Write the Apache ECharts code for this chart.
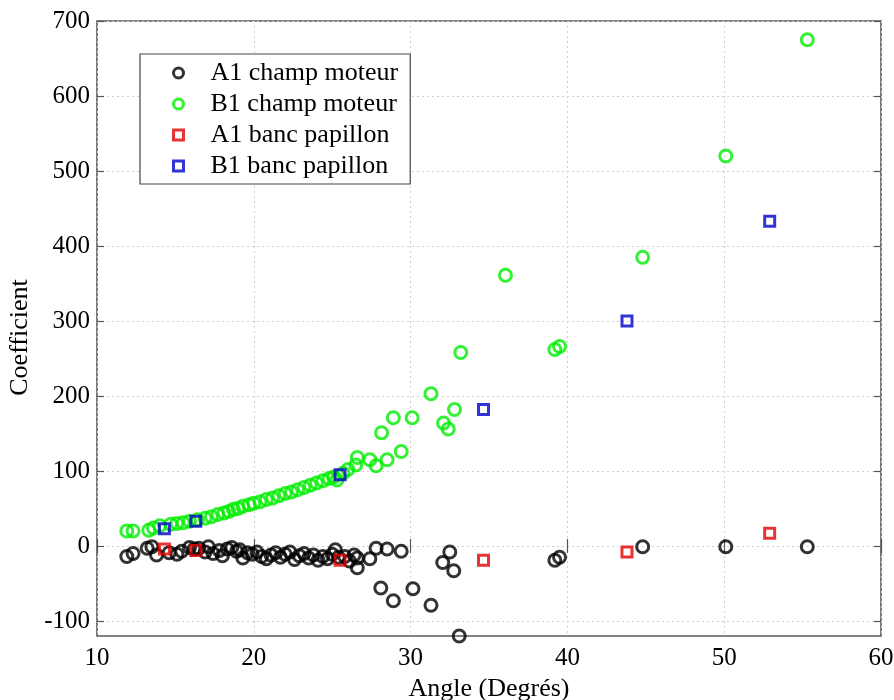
<!DOCTYPE html>
<html>
<head>
<meta charset="utf-8">
<script src="https://cdn.jsdelivr.net/npm/echarts@6/dist/echarts.min.js"></script>
<style>
html,body{margin:0;padding:0;background:#fff;}
#chart{width:894px;height:700px;}
</style>
</head>
<body>
<div id="chart"></div>
<script>
// ---- Data ----
var a1ChampX = [11.9,12.3,13.2,13.5,13.8,14.6,15.1,15.4,15.9,16.2,16.5,16.9,17.1,17.4,17.8,18.0,18.3,18.6,18.9,19.1,19.3,19.6,19.9,20.2,20.5,20.8,21.1,21.4,21.7,22.0,22.3,22.6,22.9,23.2,23.5,23.8,24.1,24.4,24.7,25.0,25.2,25.4,25.8,26.1,26.4,26.6,26.6,27.4,27.8,28.1,28.5,28.9,29.4,30.15,31.3,32.05,32.5,32.75,33.1,39.2,39.5,44.8,50.1,55.3];
var a1ChampY = [-14,-10,-3,-1,-12,-9,-11,-7,-2,-4,-3,-8,-1,-10,-6,-13,-4,-2,-7,-5,-16,-9,-11,-8,-14,-17,-12,-9,-15,-11,-8,-18,-13,-10,-16,-12,-19,-14,-17,-11,-5,-15,-14,-20,-12,-16,-29,-17,-3,-56,-4,-73,-7,-57,-79,-22,-8,-33,-120,-19,-15,-1,-1,-1];
var b1ChampX = [11.9,12.3,13.3,13.6,14.0,14.7,15.1,15.5,15.9,16.4,16.9,17.3,17.7,18.1,18.4,18.7,19.0,19.3,19.7,20.0,20.4,20.8,21.2,21.6,22.0,22.4,22.8,23.2,23.6,24.0,24.4,24.8,25.1,25.3,25.7,26.0,26.5,26.6,27.4,27.8,28.15,28.5,28.9,29.4,30.1,31.3,32.1,32.4,32.8,33.2,36.05,39.2,39.5,44.8,50.1,55.3];
var b1ChampY = [20,20,21,24,27,29,30,31,33,35,37,39,42,44,46,49,50,53,55,57,59,62,64,67,70,72,75,78,81,84,87,90,92,88,97,102,108,118,115,107,151,115,171,126,171,203,164,156,182,258,361,262,266,385,520,675];
var bancX = [14.3,16.3,25.5,34.65,43.8,52.9];
var a1BancY = [-4,-6,-19,-19,-8,17];
var b1BancY = [23,33,95,182,300,433];
var xTicks = [10,20,30,40,50,60];
var yTicks = [-100,0,100,200,300,400,500,600,700];
var seriesNames = ['A1 champ moteur','B1 champ moteur','A1 banc papillon','B1 banc papillon'];
var xLabel = 'Angle (Degrés)';
var yLabel = 'Coefficient';

function zip(xs, ys){ return xs.map(function(x,i){ return [x, ys[i]]; }); }

var FONT = 'Liberation Serif';
var chart = echarts.init(document.getElementById('chart'), null, {renderer:'canvas'});

var gridLine = {show:true, lineStyle:{color:'#d0d0d0', type:[2,3], width:1}};
var tickStyle = {show:true, inside:true, length:7, lineStyle:{color:'#555', width:1.2}};
var axisCommon = {
  axisLine:{show:false},
  axisTick:tickStyle,
  splitLine:{show:false}
};

var option = {
  animation:false,
  backgroundColor:'#fff',
  textStyle:{fontFamily:FONT},
  grid:{left:97, top:21, right:13, bottom:64, show:true, borderColor:'#5a5a5a', borderWidth:1.6, backgroundColor:'#fff', containLabel:false, outerBoundsMode:'none'},
  legend:{
    orient:'vertical', left:140, top:54,
    backgroundColor:'#fff', borderColor:'#444', borderWidth:1.2,
    padding:[6,12,5,32], itemGap:5, itemWidth:10, itemHeight:10,
    itemStyle:{borderWidth:3},
    textStyle:{fontFamily:FONT, fontSize:26, color:'#000', padding:[0,0,0,22]},
    data:seriesNames
  },
  xAxis:[
    Object.assign({}, axisCommon, {
      type:'value', min:xTicks[0], max:xTicks[xTicks.length-1], interval:10, position:'bottom',
      splitLine:gridLine,
      axisLabel:{color:'#000', fontFamily:FONT, fontSize:25, margin:10},
      name:xLabel, nameLocation:'middle', nameGap:36,
      nameTextStyle:{color:'#000', fontFamily:FONT, fontSize:26}
    }),
    Object.assign({}, axisCommon, {
      type:'value', min:xTicks[0], max:xTicks[xTicks.length-1], interval:10, position:'top',
      axisLabel:{show:false}
    })
  ],
  yAxis:[
    Object.assign({}, axisCommon, {
      type:'value', min:-120, max:700, position:'left',
      splitLine:gridLine,
      axisTick:Object.assign({}, tickStyle, {customValues:yTicks}),
      axisLabel:{color:'#000', fontFamily:FONT, fontSize:25, margin:7, customValues:yTicks},
      name:yLabel, nameLocation:'middle', nameGap:60,
      nameTextStyle:{color:'#000', fontFamily:FONT, fontSize:26, padding:[0,18,0,0]}
    }),
    Object.assign({}, axisCommon, {
      type:'value', min:-120, max:700, position:'right',
      axisTick:Object.assign({}, tickStyle, {customValues:yTicks}),
      axisLabel:{show:false, customValues:yTicks}
    })
  ],
  series:[
    {name:seriesNames[0], type:'scatter', data:zip(a1ChampX,a1ChampY), symbol:'circle', symbolSize:12,
     itemStyle:{color:'rgba(0,0,0,0)', borderColor:'#000', borderWidth:3}, z:2},
    {name:seriesNames[1], type:'scatter', data:zip(b1ChampX,b1ChampY), symbol:'circle', symbolSize:12,
     itemStyle:{color:'rgba(0,0,0,0)', borderColor:'#00ee00', borderWidth:3}, z:3},
    {name:seriesNames[2], type:'scatter', data:zip(bancX,a1BancY), symbol:'rect', symbolSize:10,
     itemStyle:{color:'rgba(0,0,0,0)', borderColor:'#e00000', borderWidth:3}, z:4},
    {name:seriesNames[3], type:'scatter', data:zip(bancX,b1BancY), symbol:'rect', symbolSize:10,
     itemStyle:{color:'rgba(0,0,0,0)', borderColor:'#0000cc', borderWidth:3}, z:5}
  ]
};
chart.setOption(option);
</script>
</body>
</html>
